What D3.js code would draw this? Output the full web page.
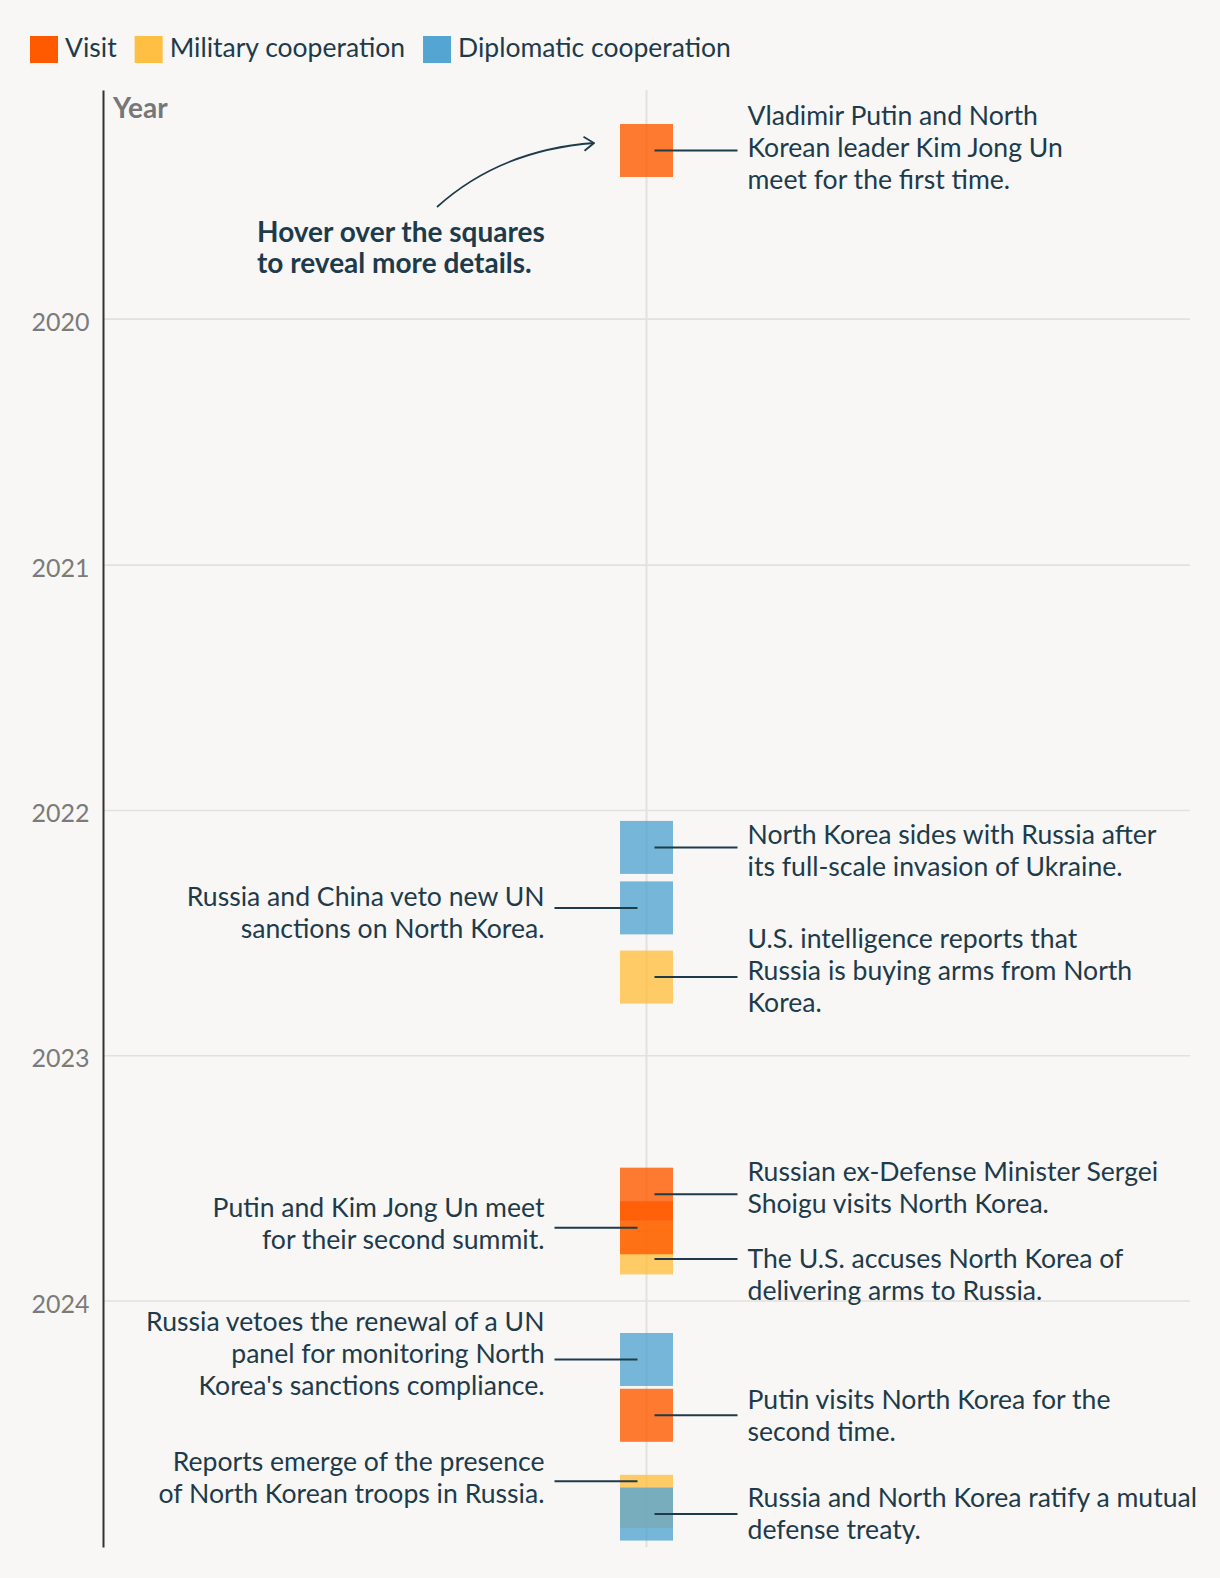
<!DOCTYPE html>
<html>
<head>
<meta charset="utf-8">
<script src="https://cdn.jsdelivr.net/npm/d3@7"></script>
<style>
  html, body { margin: 0; padding: 0; background: #f8f7f5; }
  svg { display: block; }
  text { font-family: Lato, "Open Sans", sans-serif; }
</style>
</head>
<body>
<svg id="chart" width="1220" height="1578"></svg>
<script>
// ---------------- DATA ----------------
const categories = ["Visit", "Military cooperation", "Diplomatic cooperation"];
const categoryColors = ["#ff5a00", "#ffbf42", "#55a5d2"];
// drawing order of the squares (lower layers first)
const layerOrder = ["Military cooperation", "Diplomatic cooperation", "Visit"];

const eventDates = ["2019-04-25", "2022-02-25", "2022-05-26", "2022-09-06", "2023-07-26",
                    "2023-09-14", "2023-10-14", "2024-03-28", "2024-06-19", "2024-10-25", "2024-11-13"];
const eventTypes = ["Visit", "Diplomatic cooperation", "Diplomatic cooperation", "Military cooperation", "Visit",
                    "Visit", "Military cooperation", "Diplomatic cooperation", "Visit", "Military cooperation", "Diplomatic cooperation"];
const eventLabels = [
  ["Vladimir Putin and North", "Korean leader Kim Jong Un", "meet for the first time."],
  ["North Korea sides with Russia after", "its full-scale invasion of Ukraine."],
  ["Russia and China veto new UN", "sanctions on North Korea."],
  ["U.S. intelligence reports that", "Russia is buying arms from North", "Korea."],
  ["Russian ex-Defense Minister Sergei", "Shoigu visits North Korea."],
  ["Putin and Kim Jong Un meet", "for their second summit."],
  ["The U.S. accuses North Korea of", "delivering arms to Russia."],
  ["Russia vetoes the renewal of a UN", "panel for monitoring North", "Korea's sanctions compliance."],
  ["Putin visits North Korea for the", "second time."],
  ["Reports emerge of the presence", "of North Korean troops in Russia."],
  ["Russia and North Korea ratify a mutual", "defense treaty."]
];
const labelSides = ["right", "right", "left", "right", "right", "left", "right", "left", "right", "left", "right"];

const yearTicks = [2020, 2021, 2022, 2023, 2024];
const axisTitle = "Year";
const hintLines = ["Hover over the squares", "to reveal more details."];

// ---------------- LAYOUT (label nudges, px) ----------------
const connectorShift = [0, 0, 0, 0, 0, 0, 11, 0, 0, -20, 0];
const firstBaseline  = [-25, -3, -2, -29.5, -13, -11, 9, -28, -6, -10, -7];
const lineH = 32;

// ---------------- CHART ----------------
const parse = d3.timeParse("%Y-%m-%d");
const svg = d3.select("#chart");
const ink = "#1d3b4b";
const grid = "#e2e1dd";

const x = d3.scaleLinear().domain([0, 1]).range([103, 1190]);
const y = d3.scaleTime().domain([parse("2019-01-25"), parse("2025-01-01")]).range([90, 1547]);
const color = d3.scaleOrdinal().domain(categories).range(categoryColors);
const cx = x(0.5);
const sq = 53;

// gridlines
svg.append("g").selectAll("line").data(yearTicks).join("line")
  .attr("x1", x(0)).attr("x2", x(1))
  .attr("y1", d => y(new Date(d, 0, 1))).attr("y2", d => y(new Date(d, 0, 1)))
  .attr("stroke", grid).attr("stroke-width", 1.6);

// central vertical line
svg.append("line")
  .attr("x1", cx).attr("x2", cx).attr("y1", y.range()[0]).attr("y2", y.range()[1])
  .attr("stroke", grid).attr("stroke-width", 2);

// axis
const axis = d3.axisLeft(y)
  .tickValues(yearTicks.map(d => new Date(d, 0, 1)))
  .tickFormat(d3.timeFormat("%Y"))
  .tickSize(0).tickSizeOuter(0).tickPadding(13.5);
const ag = svg.append("g").attr("transform", `translate(${x(0)},0)`).call(axis);
ag.select(".domain").attr("stroke", "#333").attr("stroke-width", 2);
ag.selectAll(".tick text").attr("font-size", 25).attr("fill", "#7b7b7b")
  .attr("dy", "0.45em").attr("font-family", "Lato, sans-serif");

svg.append("text").attr("x", 113).attr("y", 118)
  .attr("font-size", 28).attr("font-weight", 700).attr("fill", "#777")
  .text(axisTitle);

// events
const events = eventDates.map((d, i) => ({
  date: parse(d), type: eventTypes[i], lines: eventLabels[i], side: labelSides[i],
  shift: connectorShift[i], base: firstBaseline[i]
}));
const layered = events.slice().sort((a, b) =>
  layerOrder.indexOf(a.type) - layerOrder.indexOf(b.type) || a.date - b.date);

svg.append("g").selectAll("rect").data(layered).join("rect")
  .attr("x", cx - sq / 2).attr("y", d => y(d.date) - sq / 2)
  .attr("width", sq).attr("height", sq)
  .attr("fill", d => color(d.type)).attr("fill-opacity", 0.8);

svg.append("g").selectAll("line").data(events).join("line")
  .attr("x1", d => d.side === "right" ? cx + 8 : cx - 9)
  .attr("x2", d => d.side === "right" ? cx + 91 : cx - 92)
  .attr("y1", d => y(d.date) + d.shift).attr("y2", d => y(d.date) + d.shift)
  .attr("stroke", ink).attr("stroke-width", 2);

const lab = svg.append("g").selectAll("text").data(events).join("text")
  .attr("font-size", 26.6).attr("fill", ink)
  .attr("text-anchor", d => d.side === "right" ? "start" : "end");
lab.each(function(d) {
  const t = d3.select(this);
  const tx = d.side === "right" ? cx + 101 : cx - 102;
  const y0 = y(d.date) + d.shift + d.base;
  d.lines.forEach((ln, j) => {
    t.append("tspan").attr("x", tx).attr("y", y0 + j * lineH).text(ln);
  });
});

// hint annotation
const hint = svg.append("text").attr("font-size", 28).attr("font-weight", 700).attr("fill", ink);
hintLines.forEach((ln, j) => hint.append("tspan").attr("x", 257).attr("y", 242 + j * 31).text(ln));

svg.append("defs").append("marker").attr("id", "chev")
  .attr("viewBox", "0 0 12 16").attr("refX", 11).attr("refY", 8)
  .attr("markerWidth", 12).attr("markerHeight", 16).attr("markerUnits", "userSpaceOnUse")
  .attr("orient", "auto")
  .append("path").attr("d", "M1,1 L11,8 L1,15").attr("fill", "none")
  .attr("stroke", ink).attr("stroke-width", 1.8);
const ap = d3.path();
ap.moveTo(437, 207);
ap.quadraticCurveTo(500, 150, 594, 143);
svg.append("path").attr("d", ap.toString()).attr("fill", "none")
  .attr("stroke", ink).attr("stroke-width", 1.8).attr("marker-end", "url(#chev)");

// legend
const lg = svg.append("g");
let lx = 30;
categories.forEach((c, i) => {
  lg.append("rect").attr("x", lx).attr("y", 36).attr("width", 28).attr("height", 27).attr("fill", color(c));
  const t = lg.append("text").attr("x", lx + 35).attr("y", 57).attr("font-size", 26.5).attr("fill", ink).text(c);
  lx = lx + 35 + t.node().getComputedTextLength() + 18;
});
</script>
</body>
</html>
